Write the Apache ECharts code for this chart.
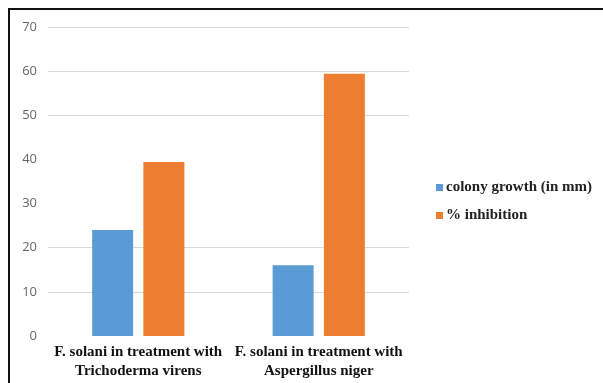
<!DOCTYPE html>
<html>
<head>
<meta charset="utf-8">
<script src="https://cdn.jsdelivr.net/npm/echarts@6/dist/echarts.min.js"></script>
<style>html,body{margin:0;padding:0;background:#fff;}#c{width:603px;height:383px;}</style>
</head>
<body>
<div id="c"></div>
<script>
var categories = ['F. solani in treatment with\nTrichoderma virens', 'F. solani in treatment with\nAspergillus niger'];
var seriesNames = ['colony growth (in mm)', '% inhibition'];
var colonyGrowth = [24, 16];
var inhibition = [39.4, 59.4];
var yTicks = [0, 10, 20, 30, 40, 50, 60, 70];

var chart = echarts.init(document.getElementById('c'));
chart.setOption({
  animation: false,
  backgroundColor: '#fff',
  graphic: [{
    type: 'polyline',
    shape: { points: [[9, 383], [9, 9], [603, 9]] },
    style: { stroke: '#111', lineWidth: 2, fill: null }
  }],
  grid: { left: 48, right: 194, top: 27, bottom: 47, containLabel: false },
  legend: {
    orient: 'vertical',
    left: 431, top: 175,
    itemWidth: 7, itemHeight: 7, itemGap: 13,
    icon: 'rect',
    data: seriesNames,
    textStyle: { fontFamily: 'Liberation Serif', fontWeight: 'bold', fontSize: 15, color: '#222', padding: [0, 0, 0, -2] }
  },
  xAxis: {
    type: 'category',
    data: categories,
    axisLine: { show: false },
    axisTick: { show: false },
    axisLabel: { interval: 0, margin: 7, lineHeight: 19, fontFamily: 'Liberation Serif', fontWeight: 'bold', fontSize: 15, color: '#111' }
  },
  yAxis: {
    type: 'value',
    min: yTicks[0], max: yTicks[yTicks.length - 1], interval: 10,
    axisLine: { show: false },
    axisTick: { show: false },
    axisLabel: { margin: 11, fontFamily: 'Open Sans', fontSize: 13, color: '#666' },
    splitLine: { lineStyle: { color: ['rgba(0,0,0,0)', '#d9d9d9', '#d9d9d9', 'rgba(0,0,0,0)', 'rgba(0,0,0,0)', '#d9d9d9', '#d9d9d9', '#d9d9d9'], width: 1 } }
  },
  series: [
    { name: seriesNames[0], type: 'bar', data: colonyGrowth, barWidth: 41, barGap: '25%', itemStyle: { color: '#5B9BD5' } },
    { name: seriesNames[1], type: 'bar', data: inhibition, barWidth: 41, itemStyle: { color: '#ED7D31' } }
  ]
});
</script>
</body>
</html>
